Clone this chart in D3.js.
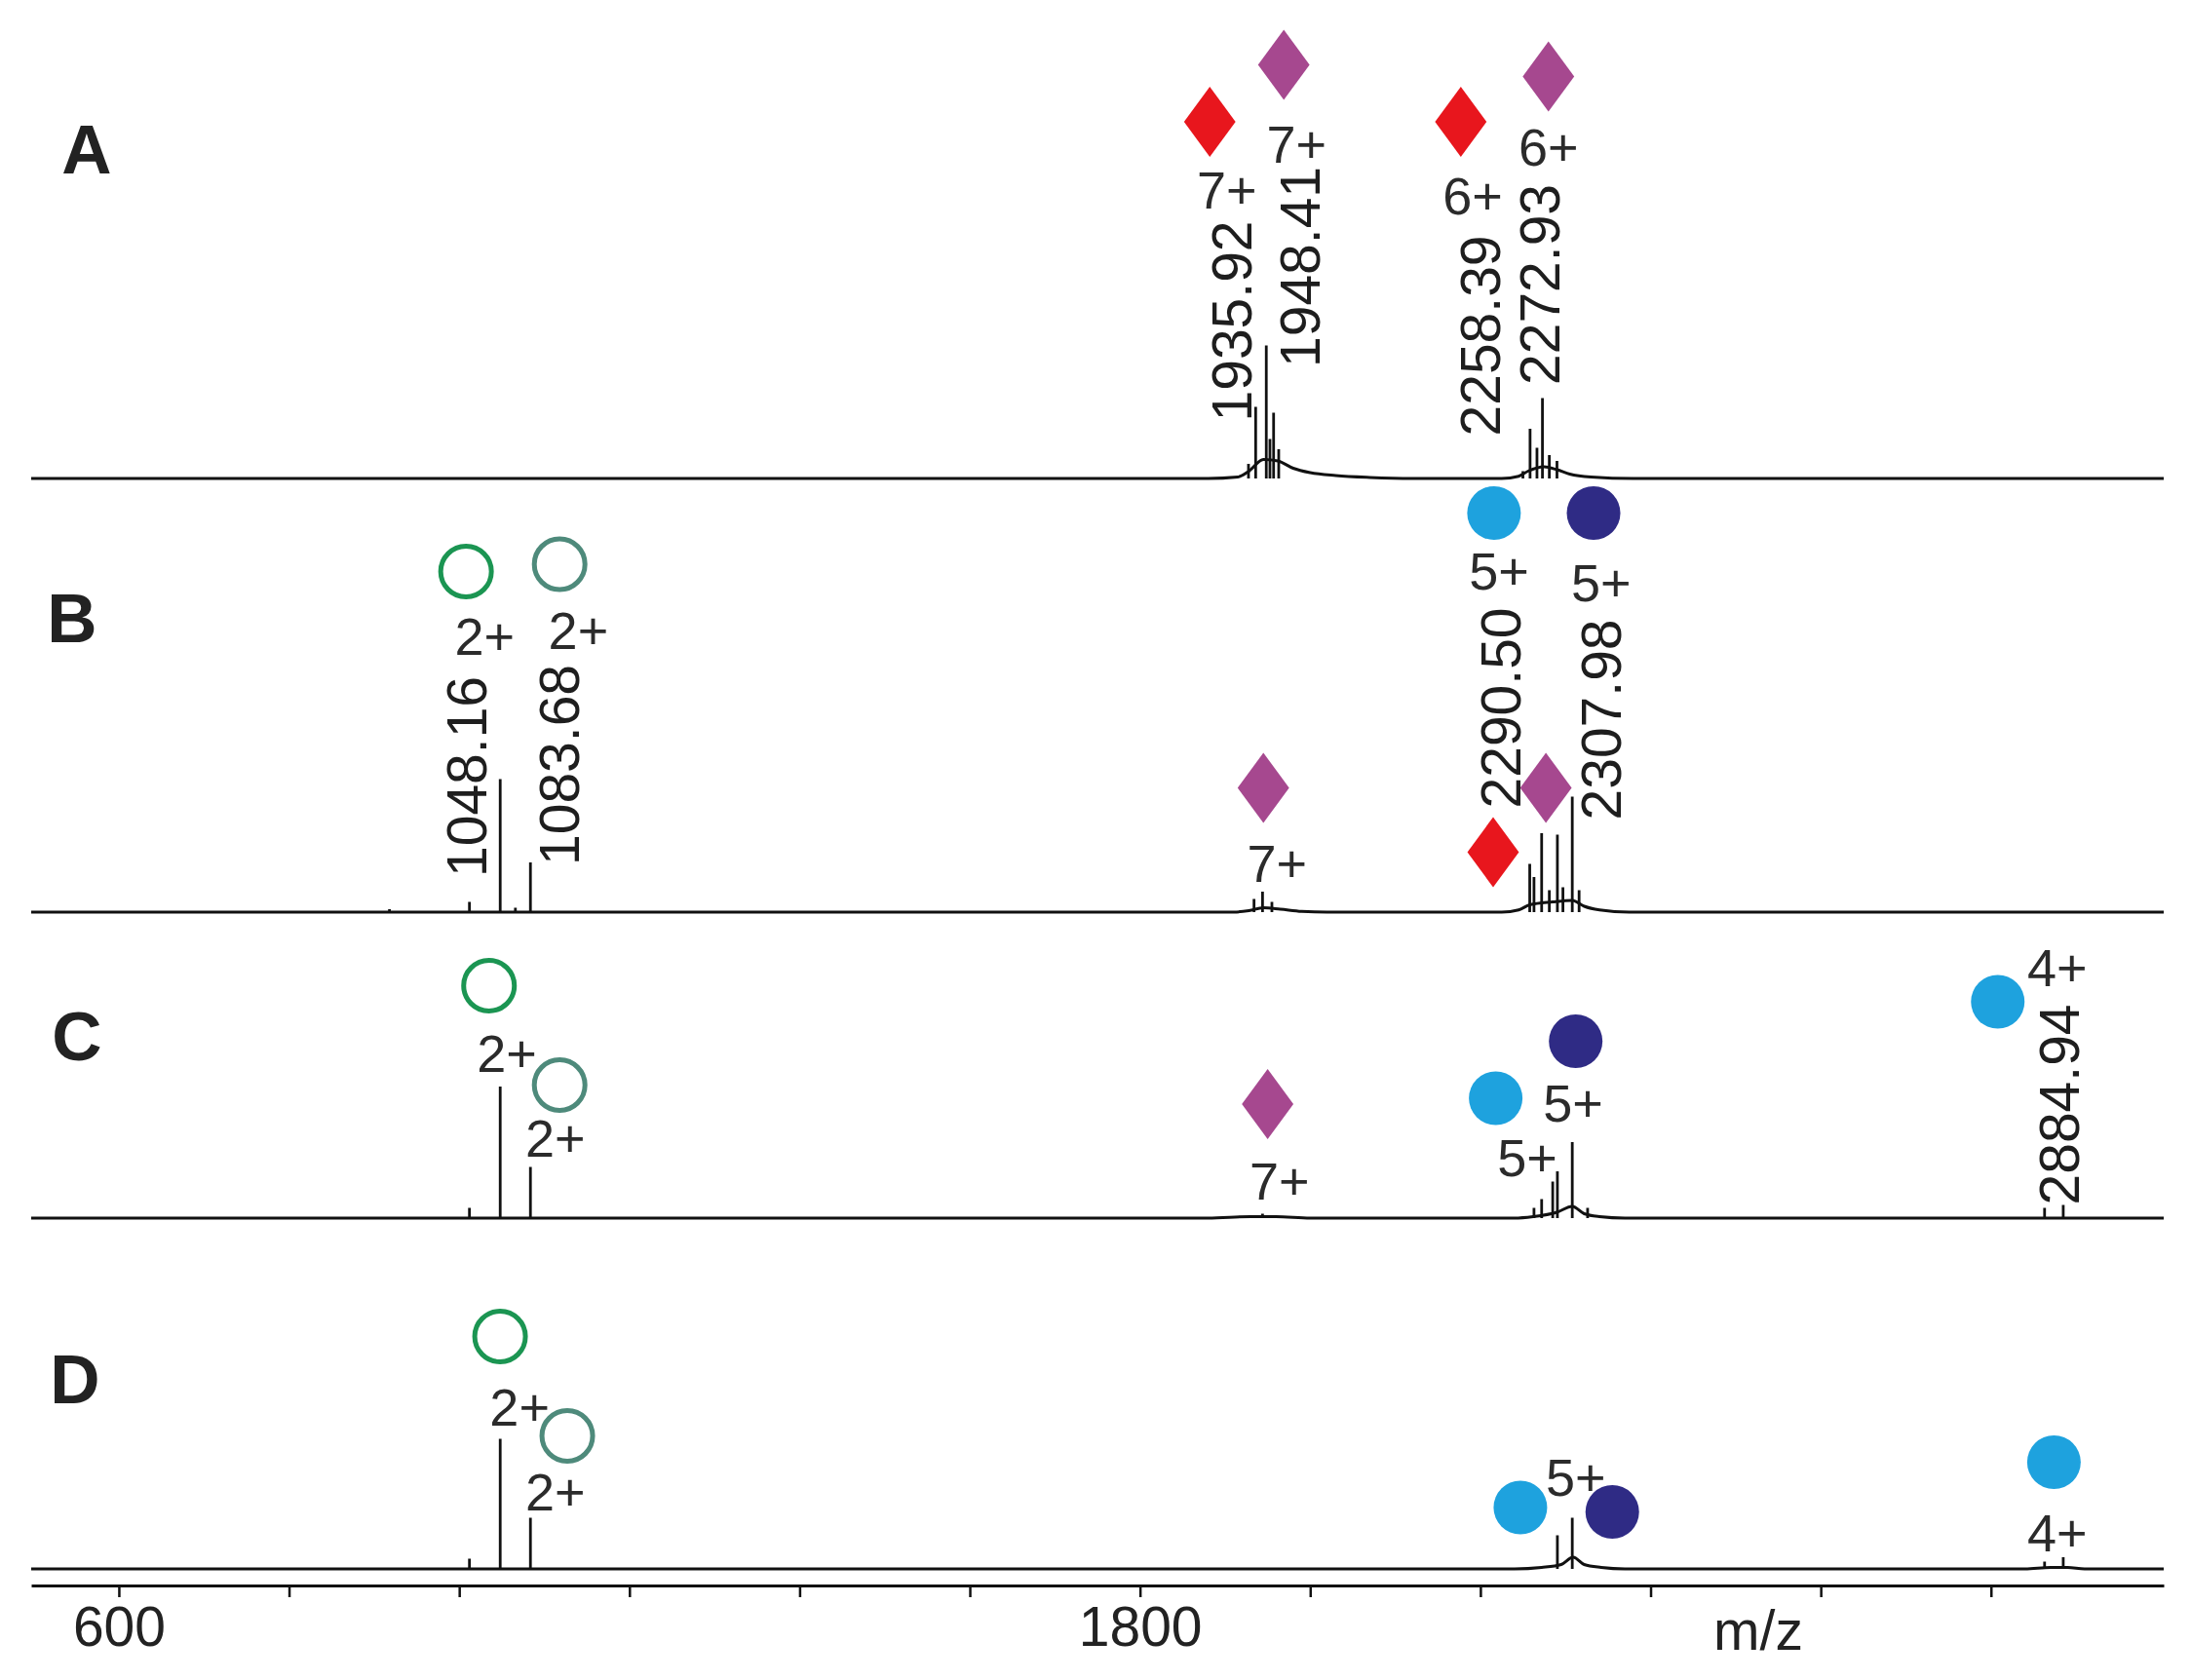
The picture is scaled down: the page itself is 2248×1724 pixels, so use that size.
<!DOCTYPE html>
<html>
<head>
<meta charset="utf-8">
<script src="https://cdn.jsdelivr.net/npm/d3@7"></script>
<style>
  html, body { margin: 0; padding: 0; background: #fff; }
  svg { display: block; }
  text { font-family: "Liberation Sans", Arial, sans-serif; }
</style>
</head>
<body>
<svg id="chart"></svg>
<script>
// ---- data (m/z, relative intensity) ----
const panels = ['A', 'B', 'C', 'D']

// stick peaks per panel
const peaksA = [[1927.5, 10], [1935.92, 49], [1948.41, 91], [1952.7, 27], [1957, 45], [1963, 20],
  [2250, 5], [2258.39, 34], [2266.5, 21], [2272.93, 55], [2281, 16], [2290, 12]]
const peaksB = [[918, 2], [1012, 7], [1048.16, 91], [1066, 3], [1083.68, 34],
  [1934, 9], [1944, 14], [1955, 7],
  [2258, 33], [2263, 24], [2272, 54], [2281, 15], [2290.5, 53], [2297, 17], [2307.98, 79], [2316, 15]]
const peaksC = [[1012, 7], [1048.16, 90], [1083.68, 35], [1944, 3],
  [2263, 7], [2272, 13], [2285, 25], [2290.5, 32], [2307.98, 52], [2326, 7],
  [2863, 7], [2884.94, 9]]
const peaksD = [[1012, 7], [1048.16, 89], [1083.68, 35],
  [2290.5, 23], [2307.98, 35], [2863, 5], [2884.94, 8]]

// broad unresolved background (sharp rise, long tail to higher m/z)
const humpA = [[1880, 0], [1915, 1], [1928, 5], [1945, 13], [1962, 12], [1980, 7], [2000, 4], [2030, 2], [2070, 0.7], [2120, 0],
  [2225, 0], [2245, 1.5], [2256, 5], [2275, 8], [2290, 6], [2305, 3], [2330, 1], [2380, 0]]
const humpB = [[1910, 0], [1928, 1], [1945, 3], [1965, 2], [1990, 0.5], [2020, 0],
  [2225, 0], [2245, 1.5], [2258, 5], [2285, 7], [2308, 8], [2322, 4], [2340, 1.5], [2375, 0]]
const humpC = [[1880, 0], [1930, 1], [1960, 1], [2000, 0],
  [2240, 0], [2262, 1], [2290, 4], [2308, 8], [2322, 3], [2340, 1], [2370, 0]]
const humpD = [[2240, 0], [2272, 1], [2295, 3], [2309, 8], [2322, 3], [2342, 1], [2370, 0],
  [2840, 0], [2870, 1], [2890, 1], [2910, 0]]

// markers: [m/z, intensity, kind]
const markersA = [[1882, 244, 'red'], [1969, 283, 'purple'], [2177, 244, 'red'], [2280, 275, 'purple']]
const markersB = [[1008, 233, 'green'], [1118, 238, 'teal'], [1945, 85, 'purple'], [2215, 41, 'red'],
  [2277, 85, 'purple'], [2216, 273, 'lightblue'], [2333, 273, 'darkblue']]
const markersC = [[1035, 159, 'green'], [1118, 91, 'teal'], [1950, 78, 'purple'],
  [2218, 82, 'lightblue'], [2312, 121, 'darkblue'], [2808, 148, 'lightblue']]
const markersD = [[1048, 159, 'green'], [1127, 91, 'teal'], [2247, 42, 'lightblue'],
  [2355, 39, 'darkblue'], [2874, 73, 'lightblue']]

// charge-state labels: [m/z, intensity, text]
const chargesA = [[1902, 185, '7+'], [1984, 216, '7+'], [2191, 181, '6+'], [2280, 214, '6+']]
const chargesB = [[1030, 176, '2+'], [1140, 180, '2+'], [1961, 21, '7+'], [2222, 221, '5+'], [2342, 213, '5+']]
const chargesC = [[1056, 100, '2+'], [1113, 42, '2+'], [1964, 13, '7+'], [2309, 66, '5+'], [2255, 29, '5+'], [2878, 159, '4+']]
const chargesD = [[1071, 98, '2+'], [1113, 40, '2+'], [2312, 50, '5+'], [2878, 12, '4+']]

// vertical m/z labels: [m/z, intensity, text]
const mzLabelsA = [[1907, 39, '1935.92'], [1988, 76, '1948.41'], [2200, 29, '2258.39'], [2269, 64, '2272.93']]
const mzLabelsB = [[1008, 24, '1048.16'], [1117, 32, '1083.68'], [2224, 71, '2290.50'], [2342, 63, '2307.98']]
const mzLabelsC = [[2880, 9, '2884.94']]
const mzLabelsD = []

const tickValues = [600, 800, 1000, 1200, 1400, 1600, 1800, 2000, 2200, 2400, 2600, 2800]
const tickLabels = { 600: '600', 1800: '1800' }

// ---- layout ----
const width = 2248
const height = 1724
const baselines = [491, 936, 1250, 1610]
const axisY = 1627

const colors = {
  red: '#e8161d',
  purple: '#a6488f',
  lightblue: '#1ea2de',
  darkblue: '#2f2b85',
  green: '#1b9552',
  teal: '#4e8a7b'
}

const svg = d3.select('#chart').attr('width', width).attr('height', height)

const x = d3.scaleLinear().domain([497, 3003]).range([32, 2220])

const line = d3.line().curve(d3.curveMonotoneX)

const diamond = d3.symbol().type(d3.symbolDiamond).size(1500)()

const series = [
  { peaks: peaksA, hump: humpA, markers: markersA, charges: chargesA, mz: mzLabelsA },
  { peaks: peaksB, hump: humpB, markers: markersB, charges: chargesB, mz: mzLabelsB },
  { peaks: peaksC, hump: humpC, markers: markersC, charges: chargesC, mz: mzLabelsC },
  { peaks: peaksD, hump: humpD, markers: markersD, charges: chargesD, mz: mzLabelsD }
]

const labelPos = [[89, 178], [74, 659], [79, 1088], [77, 1440]]

series.forEach((s, i) => {
  const base = baselines[i]
  const y = d3.scaleLinear().domain([0, 100]).range([base, base - 150])
  const g = svg.append('g').attr('class', 'panel panel-' + panels[i])

  // continuous trace with humps
  const pts = [[497, 0]].concat(s.hump, [[3003, 0]])
  g.append('path')
    .attr('d', line.x(d => x(d[0])).y(d => y(d[1]))(pts))
    .attr('fill', 'none')
    .attr('stroke', '#111')
    .attr('stroke-width', 3)

  // peaks
  g.selectAll('line.peak').data(s.peaks).enter().append('line')
    .attr('class', 'peak')
    .attr('x1', d => x(d[0])).attr('x2', d => x(d[0]))
    .attr('y1', y(0)).attr('y2', d => y(d[1]))
    .attr('stroke', '#111')
    .attr('stroke-width', 2.8)

  // markers
  s.markers.forEach(m => {
    const cx = x(m[0]), cy = y(m[1]), kind = m[2]
    if (kind === 'red' || kind === 'purple') {
      g.append('path')
        .attr('d', diamond)
        .attr('transform', `translate(${cx},${cy}) scale(1.27,1)`)
        .attr('fill', colors[kind])
    } else if (kind === 'green' || kind === 'teal') {
      g.append('circle')
        .attr('cx', cx).attr('cy', cy).attr('r', 26)
        .attr('fill', 'none')
        .attr('stroke', colors[kind])
        .attr('stroke-width', 5)
    } else {
      g.append('circle')
        .attr('cx', cx).attr('cy', cy).attr('r', 27.5)
        .attr('fill', colors[kind])
    }
  })

  // charge labels
  g.selectAll('text.charge').data(s.charges).enter().append('text')
    .attr('class', 'charge')
    .attr('x', d => x(d[0]))
    .attr('y', d => y(d[1]))
    .attr('text-anchor', 'middle')
    .attr('font-size', 54)
    .attr('fill', '#2b2b2b')
    .text(d => d[2])

  // rotated m/z labels
  g.selectAll('text.mz').data(s.mz).enter().append('text')
    .attr('class', 'mz')
    .attr('transform', d => `translate(${x(d[0])},${y(d[1])}) rotate(-90)`)
    .attr('dy', '0.36em')
    .attr('font-size', 57)
    .attr('fill', '#1e1e1e')
    .text(d => d[2])

  // panel letter
  svg.append('text')
    .attr('x', labelPos[i][0])
    .attr('y', labelPos[i][1])
    .attr('text-anchor', 'middle')
    .attr('font-size', 71)
    .attr('font-weight', 'bold')
    .attr('fill', '#222')
    .text(panels[i])
})

// ---- axis ----
const axis = d3.axisBottom(x)
  .tickValues(tickValues)
  .tickSize(12)
  .tickSizeOuter(0)
  .tickPadding(10)
  .tickFormat(d => tickLabels[d] || '')

const axisG = svg.append('g')
  .attr('transform', `translate(0,${axisY})`)
  .call(axis)

axisG.select('.domain').attr('stroke', '#111').attr('stroke-width', 3)
axisG.selectAll('.tick line').attr('stroke', '#111').attr('stroke-width', 2.5)
axisG.selectAll('.tick text')
  .attr('font-size', 57)
  .attr('font-family', '"Liberation Sans", Arial, sans-serif')
  .attr('fill', '#222')

svg.append('text')
  .attr('x', 1804)
  .attr('y', 1693)
  .attr('text-anchor', 'middle')
  .attr('font-size', 57)
  .attr('fill', '#222')
  .text('m/z')
</script>
</body>
</html>
